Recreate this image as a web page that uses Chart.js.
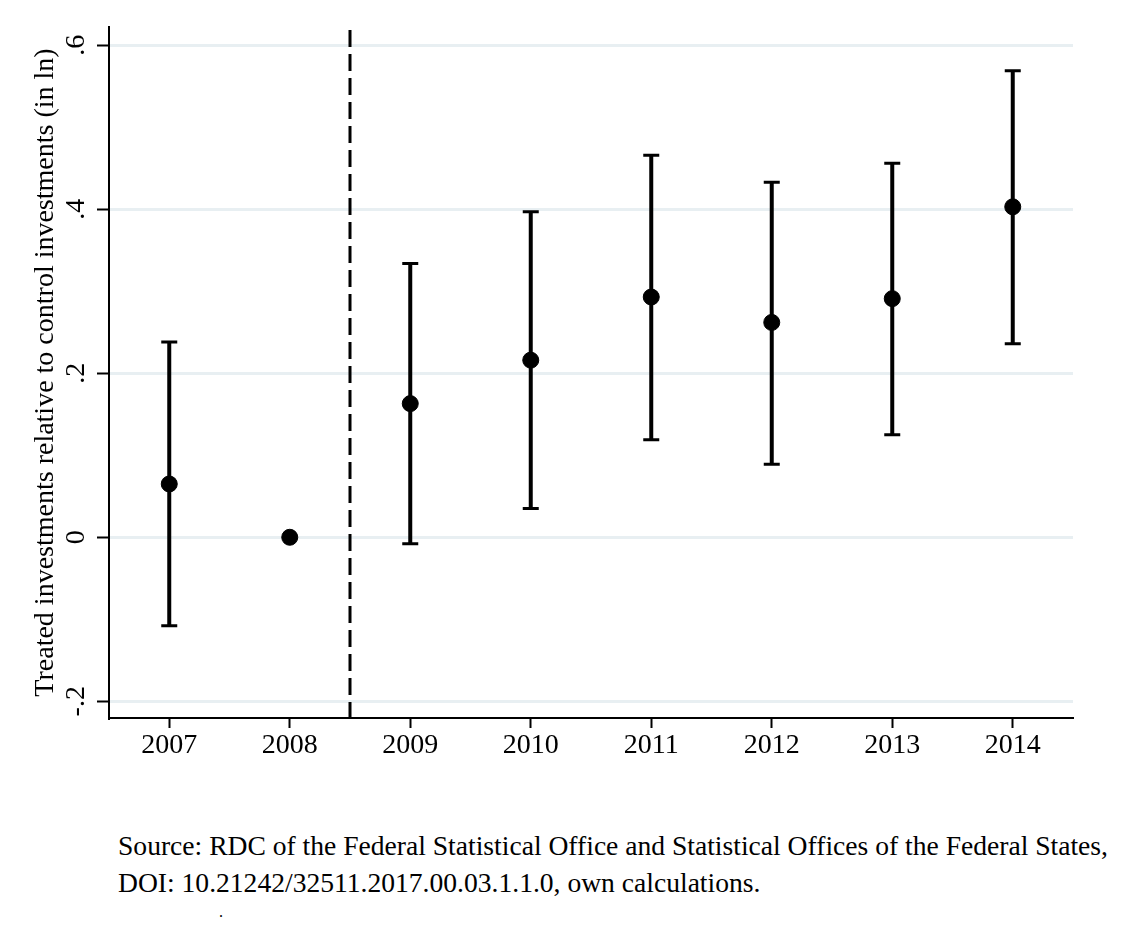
<!DOCTYPE html>
<html>
<head>
<meta charset="utf-8">
<script src="https://cdn.jsdelivr.net/npm/chart.js@4.4.1/dist/chart.umd.min.js"></script>
<style>
  body { margin: 0; background: #fff; }
  #wrap { position: relative; width: 1146px; height: 932px; }
  #note { position: absolute; left: 118px; top: 827px; font-family: "Liberation Serif", serif; font-size: 28px; line-height: 37px; color: #000; white-space: nowrap; transform-origin: 0 0; }
  #dot { position: absolute; left: 219px; top: 903px; font-family: "Liberation Serif", serif; font-size: 16px; color: #000; }
</style>
</head>
<body>
<div id="wrap">
  <canvas id="myChart" width="1146" height="800"></canvas>
  <div id="note">Source: RDC of the Federal Statistical Office and Statistical Offices of the Federal States,<br>DOI: 10.21242/32511.2017.00.03.1.1.0, own calculations.</div>
  <div id="dot">.</div>
</div>
<script>
// point estimates and 95% bounds per year (2008 is the reference year)
const years = [2007, 2008, 2009, 2010, 2011, 2012, 2013, 2014];
const estimates = [0.065, 0, 0.163, 0.216, 0.293, 0.262, 0.291, 0.403];
const lower = [-0.108, null, -0.008, 0.035, 0.119, 0.089, 0.125, 0.236];
const upper = [0.238, null, 0.334, 0.397, 0.466, 0.433, 0.456, 0.569];
const yTicks = [-0.2, 0, 0.2, 0.4, 0.6];
const treatmentBreak = 2008.5;

const font = 'Liberation Serif';

function fmt(v) {
  const r = Math.round(v * 10) / 10;
  if (r === 0) return '0';
  return (r < 0 ? '-' : '') + String(Math.abs(r)).replace(/^0/, '');
}

const errorBars = {
  id: 'errorBars',
  beforeDatasetsDraw(chart) {
    const {ctx, chartArea, scales: {x, y}} = chart;
    ctx.save();
    ctx.strokeStyle = '#000';

    // dashed line between 2008 and 2009
    const bx = x.getPixelForValue(treatmentBreak);
    ctx.lineWidth = 3;
    ctx.setLineDash([17, 7]);
    ctx.beginPath();
    ctx.moveTo(bx, chartArea.top + 3);
    ctx.lineTo(bx, chartArea.bottom);
    ctx.stroke();
    ctx.setLineDash([]);

    years.forEach((yr, i) => {
      if (lower[i] === null) return;
      const px = x.getPixelForValue(yr);
      const lo = y.getPixelForValue(lower[i]);
      const hi = y.getPixelForValue(upper[i]);
      ctx.lineWidth = 4;
      ctx.beginPath();
      ctx.moveTo(px, lo);
      ctx.lineTo(px, hi);
      ctx.stroke();
      ctx.lineWidth = 3;
      ctx.beginPath();
      ctx.moveTo(px - 8, lo); ctx.lineTo(px + 8, lo);
      ctx.moveTo(px - 8, hi); ctx.lineTo(px + 8, hi);
      ctx.stroke();
    });
    ctx.restore();
  }
};

const ctx = document.getElementById('myChart');

new Chart(ctx, {
  type: 'scatter',
  data: {
    datasets: [{
      data: years.map((yr, i) => ({x: yr, y: estimates[i]})),
      backgroundColor: '#000',
      borderColor: '#000',
      pointRadius: 8,
      pointHoverRadius: 8
    }]
  },
  options: {
    responsive: false,
    devicePixelRatio: 1,
    animation: false,
    layout: { padding: { left: 0, right: 73, top: 27, bottom: 22 } },
    plugins: { legend: { display: false }, tooltip: { enabled: false } },
    scales: {
      x: {
        type: 'linear',
        min: 2006.5,
        max: 2014.5,
        afterBuildTicks: s => { s.ticks = years.map(v => ({value: v})); },
        afterFit: s => { s.height = 60; },
        ticks: {
          callback: v => String(v),
          color: '#000',
          font: { family: font, size: 28 },
          padding: 1,
          maxRotation: 0
        },
        grid: { drawOnChartArea: false, drawTicks: true, tickLength: 10, tickColor: '#000', tickWidth: 2 },
        border: { color: '#000', width: 2 }
      },
      y: {
        min: -0.2204,
        max: 0.6223,
        afterBuildTicks: s => { s.ticks = yTicks.map(v => ({value: v})); },
        afterFit: s => { s.width = 109; },
        ticks: {
          callback: v => fmt(v),
          color: '#000',
          font: { family: font, size: 28 },
          padding: 5,
          minRotation: 90,
          maxRotation: 90,
          crossAlign: 'center'
        },
        grid: { color: '#e8eff2', lineWidth: 3, drawTicks: true, tickLength: 12, tickColor: '#000', tickWidth: 2 },
        border: { color: '#000', width: 2 },
        title: {
          display: true,
          text: 'Treated investments relative to control investments (in ln)',
          color: '#000',
          font: { family: font, size: 28, weight: 'normal' },
          padding: { top: 29, bottom: 0 }
        }
      }
    }
  },
  plugins: [errorBars]
});

// squeeze the note to the width it has in the figure
const note = document.getElementById('note');
const w = note.getBoundingClientRect().width;
note.style.transform = 'scaleX(' + (990 / w) + ')';
</script>
</body>
</html>
